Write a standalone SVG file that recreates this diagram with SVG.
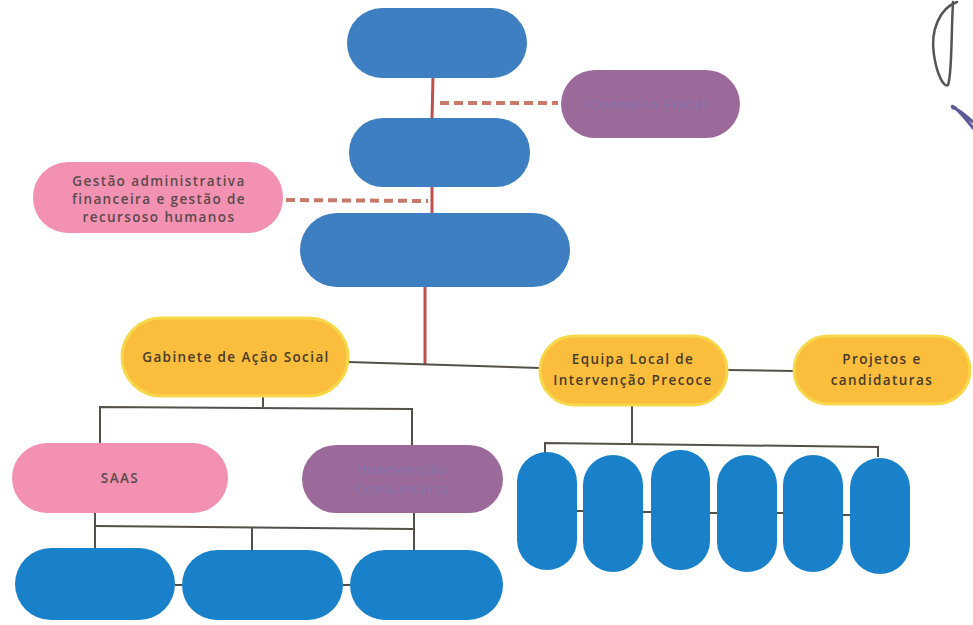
<svg xmlns="http://www.w3.org/2000/svg" width="973" height="625" viewBox="0 0 973 625">
<style>
  .blue{fill:#3d7fc0}
  .cyan{fill:#1981c9}
  .purple{fill:#9b6a9a}
  .pink{fill:#f291b2}
  .orange{fill:#fabd3c;stroke:#f7d84a;stroke-width:3}
  text{font-family:"Open Sans","Liberation Sans",sans-serif;font-size:13.5px;font-weight:600;text-anchor:middle;fill:#5a4a4a;letter-spacing:1.4px}
  .faint{fill:#8277b0;font-weight:400}
  .dark{fill:#4a3a2a}
  .red{stroke:#c0504d;stroke-width:3;fill:none}
  .dash{stroke:#c87a6a;stroke-width:4;stroke-dasharray:9,5;fill:none}
  .gray{stroke:#555048;stroke-width:2;fill:none}
</style>
<rect width="973" height="625" fill="#ffffff"/>
<g id="connectors">
  <line class="red" x1="433" y1="76" x2="432" y2="120"/>
  <line class="red" x1="432" y1="185" x2="432" y2="215"/>
  <line class="red" x1="425" y1="285" x2="425" y2="364"/>
  <line class="dash" x1="440" y1="103" x2="558" y2="103"/>
  <line class="dash" x1="286" y1="200" x2="428" y2="201"/>
  <polyline class="gray" points="348,362 540,368"/>
  <line class="gray" x1="727" y1="370" x2="794" y2="371" stroke-width="3"/>
  <line class="gray" x1="263" y1="395" x2="263" y2="407"/>
  <polyline class="gray" points="100,443 100,407 412,409 412,448"/>
  <polyline class="gray" points="95,512 95,550"/>
  <line class="gray" x1="95" y1="526" x2="414" y2="529"/>
  <line class="gray" x1="252" y1="528" x2="252" y2="550"/>
  <line class="gray" x1="414" y1="512" x2="414" y2="552"/>
  <line class="gray" x1="175" y1="585" x2="183" y2="585"/>
  <line class="gray" x1="343" y1="585" x2="351" y2="585"/>
  <line class="gray" x1="632" y1="404" x2="632" y2="443"/>
  <polyline class="gray" points="545,455 545,443 878,447 878,457"/>
  <line class="gray" x1="577" y1="511" x2="584" y2="511"/>
  <line class="gray" x1="643" y1="512" x2="652" y2="512"/>
  <line class="gray" x1="710" y1="513" x2="718" y2="513"/>
  <line class="gray" x1="777" y1="513" x2="784" y2="513"/>
  <line class="gray" x1="843" y1="515" x2="851" y2="515"/>
</g>
<g id="n-top"><rect class="blue" x="347" y="8" width="180" height="70" rx="35"/></g>
<g id="n-conselho"><rect class="purple" x="561" y="70" width="179" height="68" rx="34"/><text class="faint" x="648" y="109">Conselho Fiscal</text></g>
<g id="n-second"><rect class="blue" x="349" y="118" width="181" height="69" rx="34"/></g>
<g id="n-gestao"><rect class="pink" x="33" y="162" width="250" height="71" rx="35"/>
  <text x="159" y="186">Gestão administrativa</text>
  <text x="159" y="204">financeira e gestão de</text>
  <text x="159" y="222">recursoso humanos</text></g>
<g id="n-third"><rect class="blue" x="300" y="213" width="270" height="74" rx="37"/></g>
<g id="n-gabinete"><rect class="orange" x="122" y="318" width="226" height="78" rx="39"/><text class="dark" x="236" y="362">Gabinete de Ação Social</text></g>
<g id="n-equipa"><rect class="orange" x="540" y="336" width="187" height="69" rx="34"/>
  <text class="dark" x="633" y="364">Equipa Local de</text>
  <text class="dark" x="633" y="385">Intervenção Precoce</text></g>
<g id="n-projetos"><rect class="orange" x="794" y="336" width="176" height="68" rx="34"/>
  <text class="dark" x="882" y="364">Projetos e</text>
  <text class="dark" x="882" y="385">candidaturas</text></g>
<g id="n-saas"><rect class="pink" x="12" y="443" width="216" height="70" rx="35"/><text x="120" y="483">SAAS</text></g>
<g id="n-intervencao"><rect class="purple" x="302" y="445" width="201" height="68" rx="34"/>
  <text class="faint" x="402" y="474">Intervenção</text>
  <text class="faint" x="402" y="494">Comunitária</text></g>
<g id="n-b1"><rect class="cyan" x="15" y="548" width="160" height="72" rx="36"/></g>
<g id="n-b2"><rect class="cyan" x="182" y="550" width="161" height="70" rx="35"/></g>
<g id="n-b3"><rect class="cyan" x="350" y="550" width="153" height="70" rx="35"/></g>
<g id="n-e1"><rect class="cyan" x="517" y="452" width="60" height="118" rx="30"/></g>
<g id="n-e2"><rect class="cyan" x="583" y="455" width="60" height="117" rx="30"/></g>
<g id="n-e3"><rect class="cyan" x="651" y="450" width="59" height="120" rx="29"/></g>
<g id="n-e4"><rect class="cyan" x="717" y="455" width="60" height="117" rx="30"/></g>
<g id="n-e5"><rect class="cyan" x="783" y="455" width="60" height="117" rx="30"/></g>
<g id="n-e6"><rect class="cyan" x="850" y="458" width="60" height="116" rx="30"/></g>
<g id="pen-marks" fill="none" stroke-linecap="round">
  <path d="M957,2 C940,8 930,30 934,55 C937,75 944,88 948,85 C952,75 951,40 953,2" stroke="#555555" stroke-width="2.5"/>
  <path d="M953,108 C950,104 956,106 973,128 M953,108 C957,108 964,114 973,122" stroke="#5a5c9a" stroke-width="3"/>
</g>
</svg>
